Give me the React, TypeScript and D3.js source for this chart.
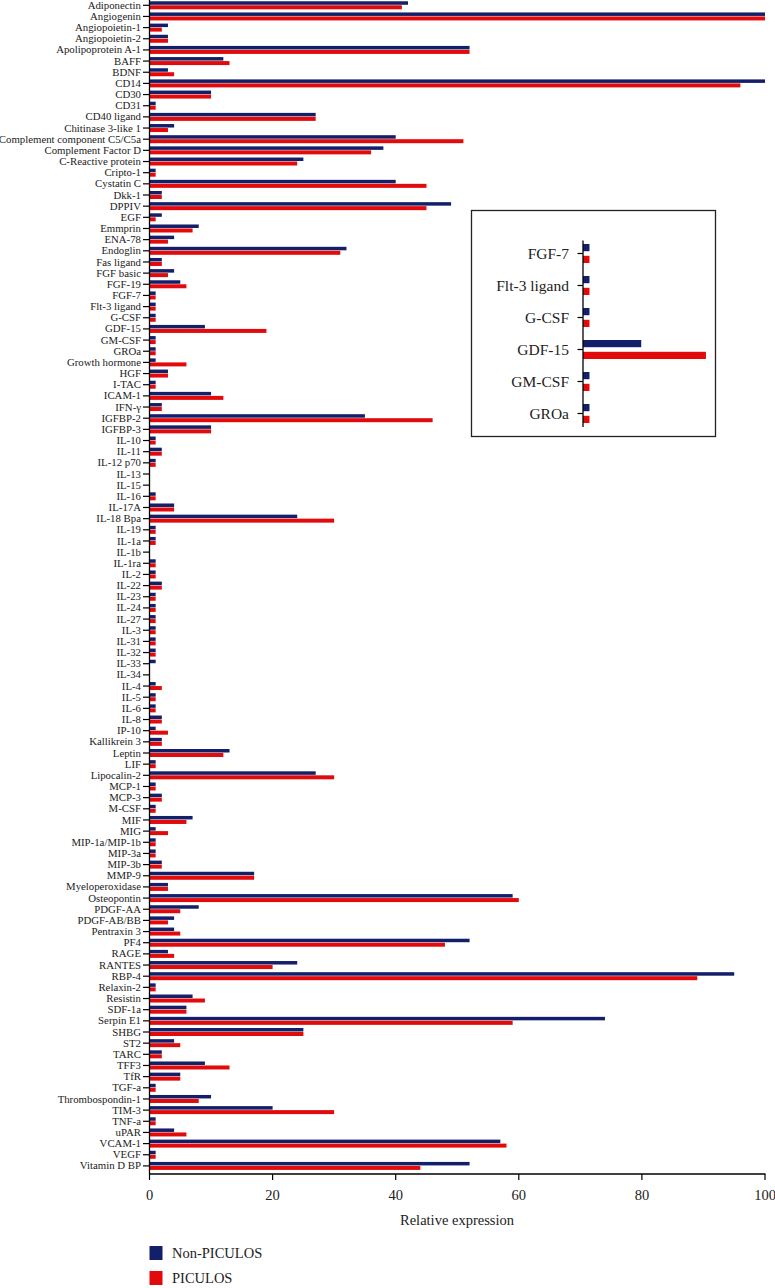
import React from "react";
import * as d3 from "d3";

const categories = [
  "Adiponectin","Angiogenin","Angiopoietin-1","Angiopoietin-2","Apolipoprotein A-1","BAFF","BDNF","CD14","CD30","CD31",
  "CD40 ligand","Chitinase 3-like 1","Complement component C5/C5a","Complement Factor D","C-Reactive protein","Cripto-1","Cystatin C","Dkk-1","DPPIV","EGF",
  "Emmprin","ENA-78","Endoglin","Fas ligand","FGF basic","FGF-19","FGF-7","Flt-3 ligand","G-CSF","GDF-15",
  "GM-CSF","GROa","Growth hormone","HGF","I-TAC","ICAM-1","IFN-γ","IGFBP-2","IGFBP-3","IL-10",
  "IL-11","IL-12 p70","IL-13","IL-15","IL-16","IL-17A","IL-18 Bpa","IL-19","IL-1a","IL-1b",
  "IL-1ra","IL-2","IL-22","IL-23","IL-24","IL-27","IL-3","IL-31","IL-32","IL-33",
  "IL-34","IL-4","IL-5","IL-6","IL-8","IP-10","Kallikrein 3","Leptin","LIF","Lipocalin-2",
  "MCP-1","MCP-3","M-CSF","MIF","MIG","MIP-1a/MIP-1b","MIP-3a","MIP-3b","MMP-9","Myeloperoxidase",
  "Osteopontin","PDGF-AA","PDGF-AB/BB","Pentraxin 3","PF4","RAGE","RANTES","RBP-4","Relaxin-2","Resistin",
  "SDF-1a","Serpin E1","SHBG","ST2","TARC","TFF3","TfR","TGF-a","Thrombospondin-1","TIM-3",
  "TNF-a","uPAR","VCAM-1","VEGF","Vitamin D BP"
];

const nonPiculos = [
  42,100,3,3,52,12,3,100,10,1,
  27,4,40,38,25,1,40,2,49,2,
  8,4,32,2,4,5,1,1,1,9,
  1,1,1,3,1,10,2,35,10,1,
  2,1,0,0,1,4,24,1,1,0,
  1,1,2,1,1,1,1,1,1,1,
  0,1,1,1,2,1,2,13,1,27,
  1,2,1,7,1,1,1,2,17,3,
  59,8,4,4,52,3,24,95,1,7,
  6,74,25,4,2,9,5,1,10,20,
  1,4,57,1,52
];

const piculos = [
  41,100,2,3,52,13,4,96,10,1,
  27,3,51,36,24,1,45,2,45,1,
  7,3,31,2,3,6,1,1,1,19,
  1,1,6,3,1,12,2,46,10,1,
  2,1,0,0,1,4,30,1,1,0,
  1,1,2,1,1,1,1,1,1,0,
  0,2,1,1,2,3,2,12,1,30,
  1,2,1,6,3,1,1,2,17,3,
  60,5,3,5,48,4,20,89,1,9,
  6,59,25,5,2,13,5,1,8,30,
  1,6,58,1,44
];

const insetCategories = ["FGF-7","Flt-3 ligand","G-CSF","GDF-15","GM-CSF","GROa"];
const xTicks = [0, 20, 40, 60, 80, 100];
const seriesNames = ["Non-PICULOS", "PICULOS"];

const BLUE = "#141f6a";
const RED = "#e20a0a";
const FONT = "'Liberation Serif', 'DejaVu Serif', serif";

export default function App() {
  const x = d3.scaleLinear().domain([0, 100]).range([149.5, 765]);
  const y = d3.scaleBand<string>().domain(categories).range([-0.3, 1171.5]);
  const bw = y.bandwidth();
  const axisY = 1174;

  const ix = d3.scaleLinear().domain([0, 20]).range([583, 712.4]);
  const iy = d3.scaleBand<string>().domain(insetCategories).range([237.5, 429.5]);
  const ibw = iy.bandwidth();

  const valOf = (name: string, arr: number[]) => arr[categories.indexOf(name)];

  return (
    <svg width={775} height={1288} style={{ position: "absolute", left: 0, top: 0, background: "#fff" }} fontFamily={FONT}>
      {/* bars */}
      {categories.map((c, i) => {
        const cy = (y(c) as number) + bw / 2;
        return (
          <g key={c}>
            {nonPiculos[i] > 0 && (
              <rect x={x(0)} y={cy - 4} width={x(nonPiculos[i]) - x(0)} height={3.5} fill={BLUE} />
            )}
            {piculos[i] > 0 && (
              <rect x={x(0)} y={cy} width={x(piculos[i]) - x(0)} height={4} fill={RED} />
            )}
            <line x1={143} x2={149.5} y1={cy} y2={cy} stroke="#000" strokeWidth={1.2} />
            <text x={141} y={cy} dy="0.33em" textAnchor="end" fontSize={10.8} fill="#222">{c}</text>
          </g>
        );
      })}
      {/* y axis */}
      <line x1={149.5} x2={149.5} y1={0} y2={axisY} stroke="#000" strokeWidth={1.3} />
      {/* x axis */}
      <line x1={149.5} x2={765.5} y1={axisY} y2={axisY} stroke="#000" strokeWidth={1.3} />
      {xTicks.map((t) => (
        <g key={t}>
          <line x1={x(t)} x2={x(t)} y1={axisY} y2={axisY + 6} stroke="#000" strokeWidth={1.2} />
          <text x={x(t)} y={1195} dy="0.33em" textAnchor="middle" fontSize={14.5} fill="#222">{t}</text>
        </g>
      ))}
      <text x={457} y={1220} dy="0.33em" textAnchor="middle" fontSize={14.5} fill="#222">Relative expression</text>

      {/* legend */}
      <rect x={149.5} y={1246} width={13} height={14} fill={BLUE} />
      <text x={172} y={1253} dy="0.33em" fontSize={14.5} fill="#222">{seriesNames[0]}</text>
      <rect x={149.5} y={1271} width={13} height={14} fill={RED} />
      <text x={172} y={1278} dy="0.33em" fontSize={14.5} fill="#222">{seriesNames[1]}</text>

      {/* inset */}
      <rect x={471.5} y={210.5} width={244} height={226} fill="#fff" stroke="#222" strokeWidth={1.3} />
      {insetCategories.map((c) => {
        const cy = (iy(c) as number) + ibw / 2;
        const b = valOf(c, nonPiculos);
        const r = valOf(c, piculos);
        return (
          <g key={"in" + c}>
            <rect x={ix(0)} y={cy - 9.5} width={ix(b) - ix(0)} height={7.2} fill={BLUE} />
            <rect x={ix(0)} y={cy + 2.3} width={ix(r) - ix(0)} height={7.2} fill={RED} />
            <line x1={577.5} x2={583} y1={cy} y2={cy} stroke="#000" strokeWidth={1.2} />
            <text x={569} y={cy} dy="0.33em" textAnchor="end" fontSize={15.5} fill="#222">{c}</text>
          </g>
        );
      })}
      <line x1={583} x2={583} y1={240.5} y2={427} stroke="#000" strokeWidth={1.3} />
    </svg>
  );
}
